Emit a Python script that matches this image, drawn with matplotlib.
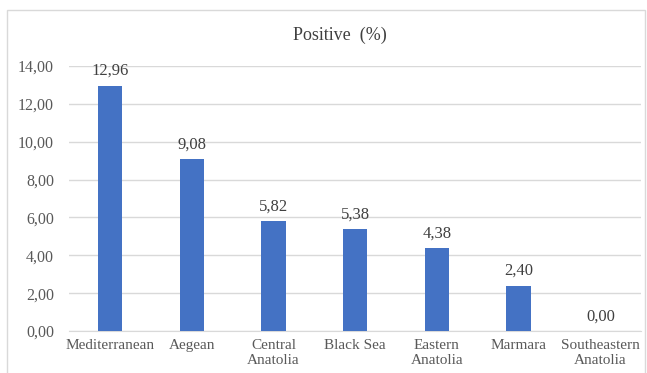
import matplotlib.pyplot as plt
from matplotlib.patches import Rectangle

regions = ["Mediterranean", "Aegean", "Central\nAnatolia", "Black Sea",
           "Eastern\nAnatolia", "Marmara", "Southeastern\nAnatolia"]
positive = [12.96, 9.08, 5.82, 5.38, 4.38, 2.40, 0.00]
yticks = [0, 2, 4, 6, 8, 10, 12, 14]

plt.rcParams['font.family'] = ['Liberation Serif', 'DejaVu Serif']

fig = plt.figure(figsize=(6.47, 3.73), dpi=100)
ax = fig.add_axes([0.107, 0.1126, 0.884, 0.7105])

# rahmen um das ganze diagramm
fig.patches.append(Rectangle((0.011, -0.02), 0.986, 0.993, transform=fig.transFigure,
                             fill=False, edgecolor="#d9d9d9", linewidth=1))

x = range(len(regions))
bars = ax.bar(x, positive, width=0.3, color="#4472c4", zorder=3)
for b, v in zip(bars, positive):
    ax.text(b.get_x() + b.get_width() / 2, v + 0.35, f"{v:.2f}".replace(".", ","),
            ha="center", va="bottom", fontsize=12, color="#404040")

ax.set_xlim(-0.5, len(regions) - 0.5)
ax.set_ylim(0, 14)
ax.set_yticks(yticks)
ax.set_yticklabels([f"{t:.2f}".replace(".", ",") for t in yticks])
ax.set_xticks(list(x))
ax.set_xticklabels(regions, linespacing=1.15)
ax.tick_params(axis="both", length=0, labelsize=11, colors="#595959")
ax.tick_params(axis="y", pad=11, labelsize=11.5)
ax.tick_params(axis="x", pad=6)
ax.grid(axis="y", color="#d9d9d9", linewidth=1, zorder=0)
for s in ["top", "right", "left"]:
    ax.spines[s].set_visible(False)
ax.spines["bottom"].set_color("#d9d9d9")

fig.text(0.525, 0.905, "Positive  (%)", ha="center", va="center", fontsize=13, color="#404040")

plt.savefig("out.png", dpi=100)
